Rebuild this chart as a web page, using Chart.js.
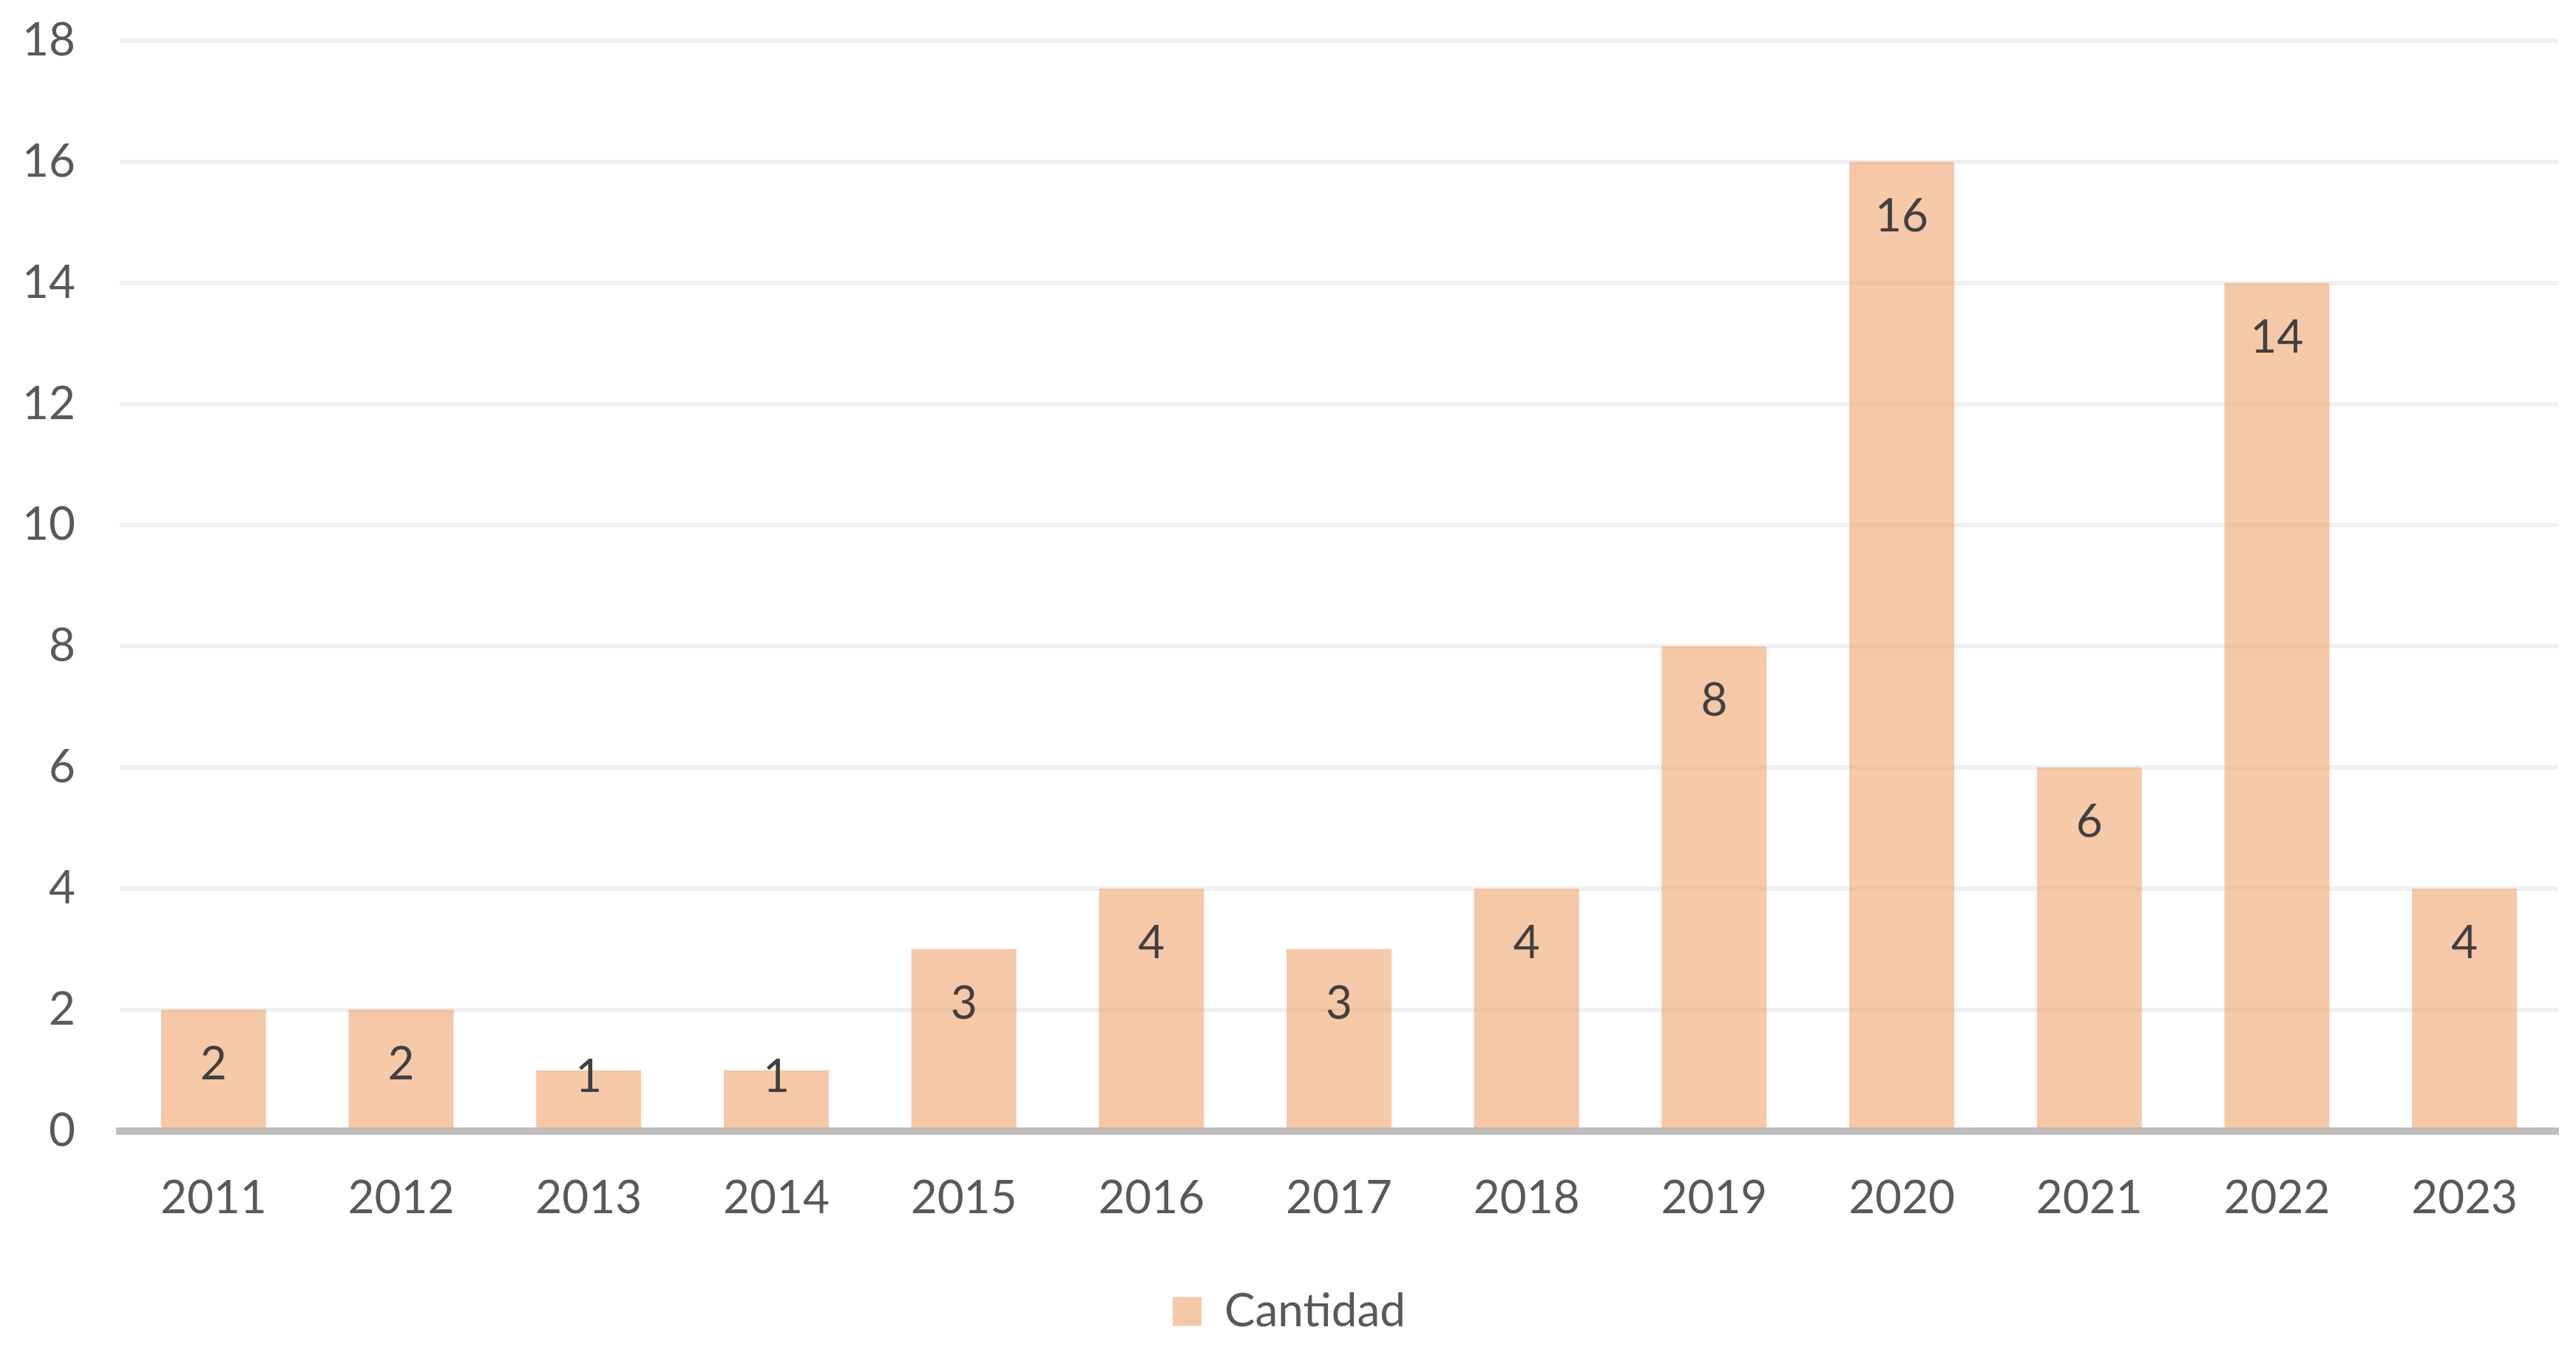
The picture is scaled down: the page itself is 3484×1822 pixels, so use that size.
<!DOCTYPE html>
<html>
<head>
<meta charset="utf-8">
<script src="https://cdn.jsdelivr.net/npm/chart.js@4.4.0/dist/chart.umd.min.js"></script>
<style>
  html, body { margin: 0; padding: 0; background: #fff; }
  #wrap { width: 3484px; height: 1822px; position: relative; }
</style>
</head>
<body>
<div id="wrap"><canvas id="chart"></canvas></div>
<script>
// datos
var years = ['2011', '2012', '2013', '2014', '2015', '2016', '2017', '2018', '2019', '2020', '2021', '2022', '2023'];
var cantidad = [2, 2, 1, 1, 3, 4, 3, 4, 8, 16, 6, 14, 4];
var yTicks = [0, 2, 4, 6, 8, 10, 12, 14, 16, 18];

var fontFamily = 'Lato, "Noto Sans", sans-serif';
var fontSize = 62;

// etiquetas de valor dentro de la barra, cerca del extremo
var barLabels = {
    id: 'barLabels',
    afterDatasetsDraw: function(chart) {
        var ctx = chart.ctx;
        var meta = chart.getDatasetMeta(0);
        ctx.save();
        ctx.font = fontSize + 'px ' + fontFamily;
        ctx.fillStyle = '#404040';
        ctx.textAlign = 'center';
        ctx.textBaseline = 'middle';
        meta.data.forEach(function(bar, i) {
            var y = Math.min(bar.y + 74, bar.base - 70);
            ctx.fillText(cantidad[i], bar.x, y);
        });
        ctx.restore();
    }
};

var ctx = document.getElementById('chart');
var myChart = new Chart(ctx, {
    type: 'bar',
    data: {
        labels: years,
        datasets: [{
            label: 'Cantidad',
            data: cantidad,
            backgroundColor: 'rgba(238,163,110,0.6)',
            borderWidth: 0,
            barPercentage: 0.56,
            categoryPercentage: 1
        }]
    },
    options: {
        responsive: true,
        maintainAspectRatio: false,
        animation: false,
        layout: {
            padding: { top: 0, right: 24, left: 27, bottom: 7 }
        },
        plugins: {
            tooltip: { enabled: false },
            legend: {
                position: 'bottom',
                labels: {
                    boxWidth: 39,
                    boxHeight: 39,
                    padding: 31,
                    color: '#595959',
                    font: { size: fontSize, family: fontFamily }
                }
            }
        },
        scales: {
            x: {
                grid: { display: false, drawTicks: false },
                border: { color: '#bfbfbf', width: 10 },
                ticks: {
                    color: '#595959',
                    padding: 54,
                    font: { size: fontSize, family: fontFamily }
                }
            },
            y: {
                min: 0,
                max: 18,
                afterBuildTicks: function(axis) {
                    axis.ticks = yTicks.map(function(v) { return { value: v }; });
                },
                afterFit: function(axis) {
                    axis.width = 135;
                    axis.paddingTop = 55;
                    axis.paddingBottom = 0;
                },
                grid: { color: '#f0f0f0', lineWidth: 6, drawTicks: false },
                border: { display: false },
                ticks: {
                    color: '#595959',
                    padding: 60,
                    font: { size: fontSize, family: fontFamily }
                }
            }
        }
    },
    plugins: [barLabels]
});
</script>
</body>
</html>
